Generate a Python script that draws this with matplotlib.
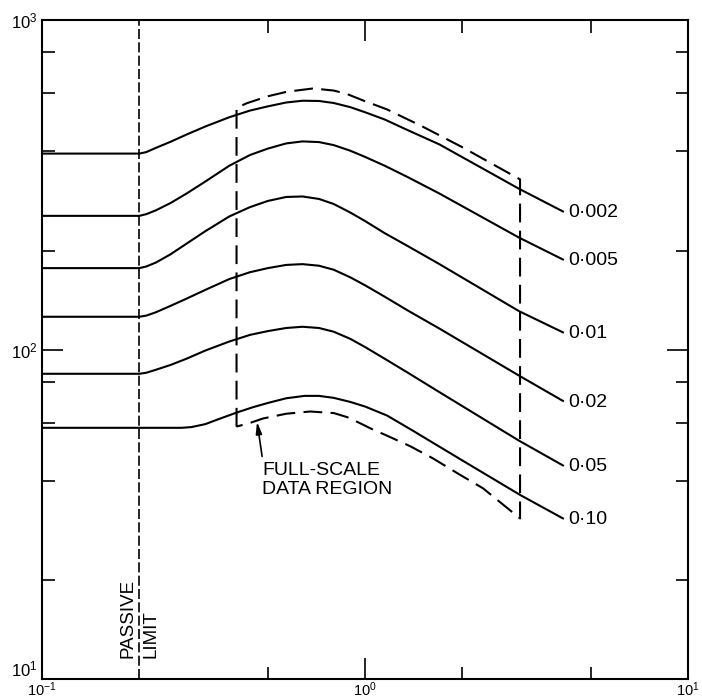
import matplotlib
matplotlib.use("Agg")
import matplotlib.pyplot as plt
from matplotlib.ticker import FixedLocator, LogFormatterMathtext, NullFormatter

plt.rcParams['font.family'] = ['Liberation Sans', 'DejaVu Sans']
plt.rcParams['mathtext.fontset'] = 'custom'
plt.rcParams['mathtext.rm'] = 'Liberation Sans'
plt.rcParams['mathtext.it'] = 'Liberation Sans:italic'

# curves (x, y) - one per label
labels = ["0·002", "0·005", "0·01", "0·02", "0·05", "0·10"]

x_std = [0.1, 0.2, 0.21, 0.225, 0.25, 0.28, 0.32, 0.38, 0.44, 0.5, 0.57, 0.64,
         0.72, 0.8, 0.9, 1.0, 1.15, 1.35, 1.7, 3.0, 4.1]

y_002 = [394, 394, 398, 410, 428, 450, 476, 508, 532, 548, 563, 570,
         569, 561, 545, 526, 500, 465, 420, 308, 263]
y_005 = [255, 255, 258, 265, 279, 298, 324, 362, 390, 408, 423, 429,
         427, 418, 402, 385, 362, 335, 298, 219, 188]
y_01 = [177, 177, 179, 184, 195, 210, 229, 254, 271, 283, 291, 292,
        287, 277, 261, 246, 226, 207, 182, 131, 113]
y_02 = [126, 126, 127, 130, 136, 143, 152, 164, 172, 177, 181, 182,
        180, 175, 166, 157, 145, 132, 116, 83.5, 70]
y_05 = [84.6, 84.6, 85.2, 87, 90, 94, 99.5, 106, 111, 114, 116.5, 117.5,
        116.5, 113.5, 108, 102, 94, 85.5, 74.4, 53, 44.6]

x_10 = [0.1, 0.27, 0.29, 0.32, 0.35, 0.4, 0.45, 0.5, 0.57, 0.65, 0.72, 0.8,
        0.9, 1.0, 1.17, 1.4, 1.62, 2.0, 3.02, 4.1]
y_10 = [58, 58, 58.3, 59.5, 61.5, 64.5, 67, 69, 71.3, 72.5, 72.5, 71.5,
        69.5, 67.3, 63.2, 57, 52.3, 46.2, 36.3, 30.8]

curves = [(x_std, y_002), (x_std, y_005), (x_std, y_01),
          (x_std, y_02), (x_std, y_05), (x_10, y_10)]

# full-scale data region boundary
top_x = [0.4, 0.43, 0.5, 0.573, 0.69, 0.8, 0.877, 1.0, 1.167, 1.5, 2.0, 3.02]
top_y = [542, 560, 588, 607, 621, 612, 598, 568, 537, 477, 412, 329]
bot_x = [0.4, 0.44, 0.483, 0.57, 0.676, 0.8, 0.88, 0.945, 1.05, 1.17, 1.38,
         1.62, 1.95, 2.32, 3.02]
bot_y = [58.5, 60, 61.9, 64, 65, 64.3, 62.5, 60.5, 57.5, 54.9, 51, 46.9,
         42, 38, 30.8]

passive_x = 0.2

fig = plt.figure(figsize=(7.02, 6.99), dpi=100)
ax = fig.add_axes([0.06, 0.028, 0.92, 0.943])
ax.set_xscale('log')
ax.set_yscale('log')
ax.set_xlim(0.1, 10)
ax.set_ylim(10, 1000)

for (xs, ys), lab in zip(curves, labels):
    ax.plot(xs, ys, color='black', lw=1.5, solid_joinstyle='round')
    ax.annotate(lab, xy=(xs[-1], ys[-1]), xytext=(4, -1), textcoords='offset points',
                ha='left', va='center', fontsize=14)

# data region box, dashed
reg_x = [top_x[0]] + top_x + bot_x[::-1]
reg_y = [bot_y[0]] + top_y + bot_y[::-1]
ax.plot(reg_x, reg_y, color='black', lw=1.5, dashes=(9, 4))

ax.axvline(passive_x, color='black', lw=1.2, dashes=(6, 2))
ax.text(passive_x, 11.65, "PASSIVE\nLIMIT", rotation=90, ha='center', va='bottom',
        multialignment='left', fontsize=13.5, linespacing=1.45)

ax.text(0.48, 45.6, "FULL-SCALE\nDATA REGION", ha='left', va='top', fontsize=14,
        linespacing=1.15)
ax.annotate("", xy=(0.463, 60.5), xytext=(0.48, 47.5),
            arrowprops=dict(arrowstyle='-|>,head_width=0.18,head_length=0.7',
                            color='black', lw=1.2, shrinkA=0, shrinkB=0))

# ticks
ax.xaxis.set_major_locator(FixedLocator([0.1, 1, 10]))
ax.yaxis.set_major_locator(FixedLocator([10, 100, 1000]))
ax.xaxis.set_minor_locator(FixedLocator([0.5, 2, 5]))
ax.yaxis.set_minor_locator(FixedLocator([20, 40, 60, 80, 200, 400, 600, 800]))
ax.xaxis.set_major_formatter(LogFormatterMathtext())
ax.yaxis.set_major_formatter(LogFormatterMathtext())
ax.xaxis.set_minor_formatter(NullFormatter())
ax.yaxis.set_minor_formatter(NullFormatter())
ax.tick_params(which='both', direction='in', top=True, right=True)
ax.tick_params(axis='y', labelsize=12, pad=3)
ax.tick_params(axis='x', labelsize=10.5, pad=0.5)
ax.tick_params(which='major', length=15, width=1.2)
ax.tick_params(which='minor', length=9, width=1.2)
ax.yaxis.get_major_ticks()[0].label1.set_verticalalignment('bottom')
for s in ax.spines.values():
    s.set_linewidth(1.5)

fig.savefig("out.png", dpi=100)
